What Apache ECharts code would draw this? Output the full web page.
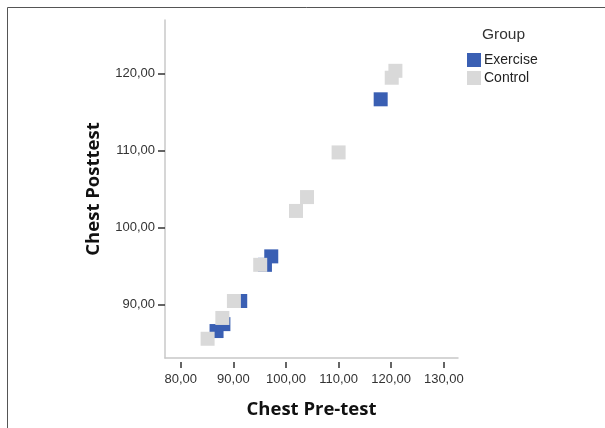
<!DOCTYPE html>
<html><head><meta charset="utf-8">
<script src="https://cdn.jsdelivr.net/npm/echarts@6/dist/echarts.min.js"></script>
<style>html,body{margin:0;padding:0;background:#fff}#c{width:605px;height:428px}</style>
</head><body><div id="c"></div>
<script>
const groupTitle = 'Group';
const seriesNames = ['Exercise', 'Control'];
const xTicks = [80, 90, 100, 110, 120, 130];
const yTicks = [90, 100, 110, 120];
const exerciseX = [86.8, 88.1, 91.3, 96.0, 97.2, 118.0];
const exerciseY = [86.6, 87.5, 90.5, 95.2, 96.3, 116.7];
const controlX = [85.1, 87.9, 90.1, 95.1, 101.9, 104.0, 110.0, 120.1, 120.8];
const controlY = [85.6, 88.3, 90.5, 95.2, 102.2, 104.0, 109.8, 119.5, 120.4];

const fmt = v => v.toFixed(2).replace('.', ',');
const pairs = (xs, ys) => xs.map((x, i) => [x, ys[i]]);
const font = 'Liberation Sans, Arial, sans-serif';
const titleFont = {fontSize: 18.5, fontWeight: 'bold', color: '#111', fontFamily: 'Open Sans, sans-serif'};

const chart = echarts.init(document.getElementById('c'), null, {renderer: 'canvas'});
chart.setOption({
  animation: false,
  backgroundColor: '#fff',
  grid: {left: 165, right: 147, top: 20, bottom: 70},
  legend: {
    left: 467, top: 53, orient: 'vertical', icon: 'rect',
    itemWidth: 14, itemHeight: 14, itemGap: 4, padding: 0,
    textStyle: {fontSize: 14, color: '#222', fontFamily: font, padding: [0, 0, 0, -2]},
    data: seriesNames
  },
  graphic: [
    {type: 'rect', silent: true, shape: {x: 7.5, y: 7.5, width: 700, height: 500},
     style: {fill: 'none', stroke: '#555', lineWidth: 1}},
    {type: 'text', left: 482, top: 27, style: {text: groupTitle, fontSize: 15.5, fill: '#333', fontFamily: font}}
  ],
  xAxis: [
    {type: 'value', min: 77.0, max: 132.7, splitLine: {show: false},
     axisLine: {show: true, lineStyle: {color: '#c8c8c8', width: 1.5}},
     axisTick: {show: false}, axisLabel: {show: false},
     name: 'Chest Pre-test', nameLocation: 'middle', nameGap: 42, nameTextStyle: titleFont},
    {type: 'value', min: 77.0, max: 132.7, position: 'bottom', offset: 4, splitLine: {show: false},
     axisLine: {show: false},
     axisTick: {show: true, length: 6, customValues: xTicks, lineStyle: {color: '#333', width: 1.5}},
     axisLabel: {customValues: xTicks, formatter: fmt, fontSize: 13, color: '#333', fontFamily: font, margin: 11}}
  ],
  yAxis: [
    {type: 'value', min: 83.1, max: 127.0, splitLine: {show: false},
     axisLine: {show: true, lineStyle: {color: '#c8c8c8', width: 1.5}},
     axisTick: {show: true, length: 7, customValues: yTicks, lineStyle: {color: '#333', width: 1.5}},
     axisLabel: {customValues: yTicks, formatter: fmt, fontSize: 13, color: '#333', fontFamily: font, margin: 10},
     name: 'Chest Posttest', nameLocation: 'middle', nameGap: 62, nameRotate: 90, nameTextStyle: titleFont}
  ],
  series: [
    {name: seriesNames[0], type: 'scatter', xAxisIndex: 0, symbol: 'rect', symbolSize: 14,
     itemStyle: {color: '#3a5fb3', opacity: 1}, data: pairs(exerciseX, exerciseY)},
    {name: seriesNames[1], type: 'scatter', xAxisIndex: 0, symbol: 'rect', symbolSize: 14,
     itemStyle: {color: '#d9d9d9', opacity: 1}, data: pairs(controlX, controlY)}
  ]
});
</script></body></html>
